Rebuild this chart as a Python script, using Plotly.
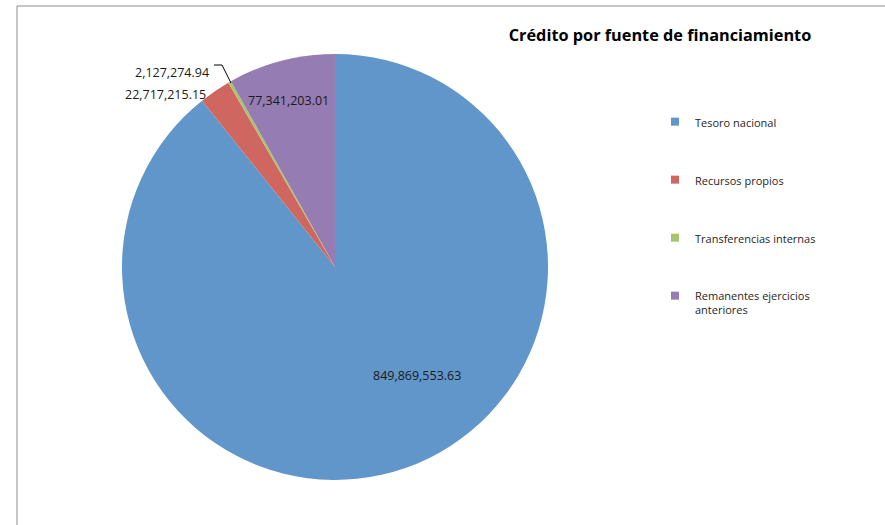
import plotly.graph_objects as go

# data
fuentes = ['Tesoro nacional', 'Recursos propios', 'Transferencias internas',
           'Remanentes ejercicios anteriores']
montos = [849869553.63, 22717215.15, 2127274.94, 77341203.01]
colores = ['#6196CB', '#CF6660', '#A9C56B', '#957CB2']
legend_names = ['Tesoro nacional', 'Recursos propios', 'Transferencias internas',
                'Remanentes ejercicios<br>anteriores']

W, H = 885, 525


def px(x):
    return x / W


def py(y):
    return 1 - y / H


def fmt(v):
    return '{:,.2f}'.format(v)


fig = go.Figure()
fig.add_trace(go.Pie(labels=fuentes, values=montos, sort=False,
                     direction='clockwise', rotation=0,
                     marker=dict(colors=colores, line=dict(width=0)),
                     textinfo='none', hoverinfo='label+value',
                     showlegend=False,
                     domain=dict(x=[px(122), px(548)], y=[py(480), py(54)])))

# legend entries (one group each so they can be spaced out)
for i, name in enumerate(legend_names):
    fig.add_trace(go.Scatter(x=[None], y=[None], mode='markers', name=name,
                             legendgroup='g%d' % i,
                             marker=dict(symbol='square', size=8, color=colores[i])))

lbl_font = dict(family='Open Sans', size=12.5, color='#1a1a1a')
# data labels
fig.add_annotation(x=px(417), y=py(386), xref='paper', yref='paper', xanchor='center',
                   text=fmt(montos[0]), showarrow=False, font=lbl_font)
fig.add_annotation(x=px(288), y=py(90), xref='paper', yref='paper', xanchor='center',
                   text=fmt(montos[3]), showarrow=False, font=lbl_font)
fig.add_annotation(x=px(208), y=py(84), xref='paper', yref='paper', xanchor='right',
                   text=fmt(montos[1]), showarrow=False, font=lbl_font)
fig.add_annotation(x=px(211), y=py(62), xref='paper', yref='paper', xanchor='right',
                   text=fmt(montos[2]), showarrow=False, font=lbl_font)
# leader line for the thin slice
fig.add_shape(type='line', xref='paper', yref='paper',
              x0=px(214), y0=py(65), x1=px(222), y1=py(65),
              line=dict(color='#000000', width=1))
fig.add_shape(type='line', xref='paper', yref='paper',
              x0=px(222), y0=py(65), x1=px(231), y1=py(83),
              line=dict(color='#000000', width=1))

# chart frame (only top and left edges are in view)
fig.add_shape(type='line', xref='paper', yref='paper',
              x0=px(17), y0=py(6), x1=1, y1=py(6),
              line=dict(color='#8c8c8c', width=1))
fig.add_shape(type='line', xref='paper', yref='paper',
              x0=px(17), y0=py(6), x1=px(17), y1=0,
              line=dict(color='#8c8c8c', width=1))

fig.update_layout(
    width=W, height=H,
    margin=dict(l=0, r=0, t=0, b=0),
    paper_bgcolor='white', plot_bgcolor='white',
    title=dict(text='<b>Crédito por fuente de financiamiento</b>',
               x=px(660), xanchor='center', y=py(35), yanchor='middle',
               font=dict(family='Open Sans', size=16.3, color='#000000')),
    xaxis=dict(visible=False), yaxis=dict(visible=False),
    legend=dict(x=px(655), y=py(108), xanchor='left', yanchor='top',
                tracegroupgap=39, valign='top',
                font=dict(family='Open Sans', size=11, color='#262626'),
                bgcolor='rgba(0,0,0,0)'),
)

fig.write_html('out.html', config={'displayModeBar': False},
               post_script="document.body.style.margin='0';")
